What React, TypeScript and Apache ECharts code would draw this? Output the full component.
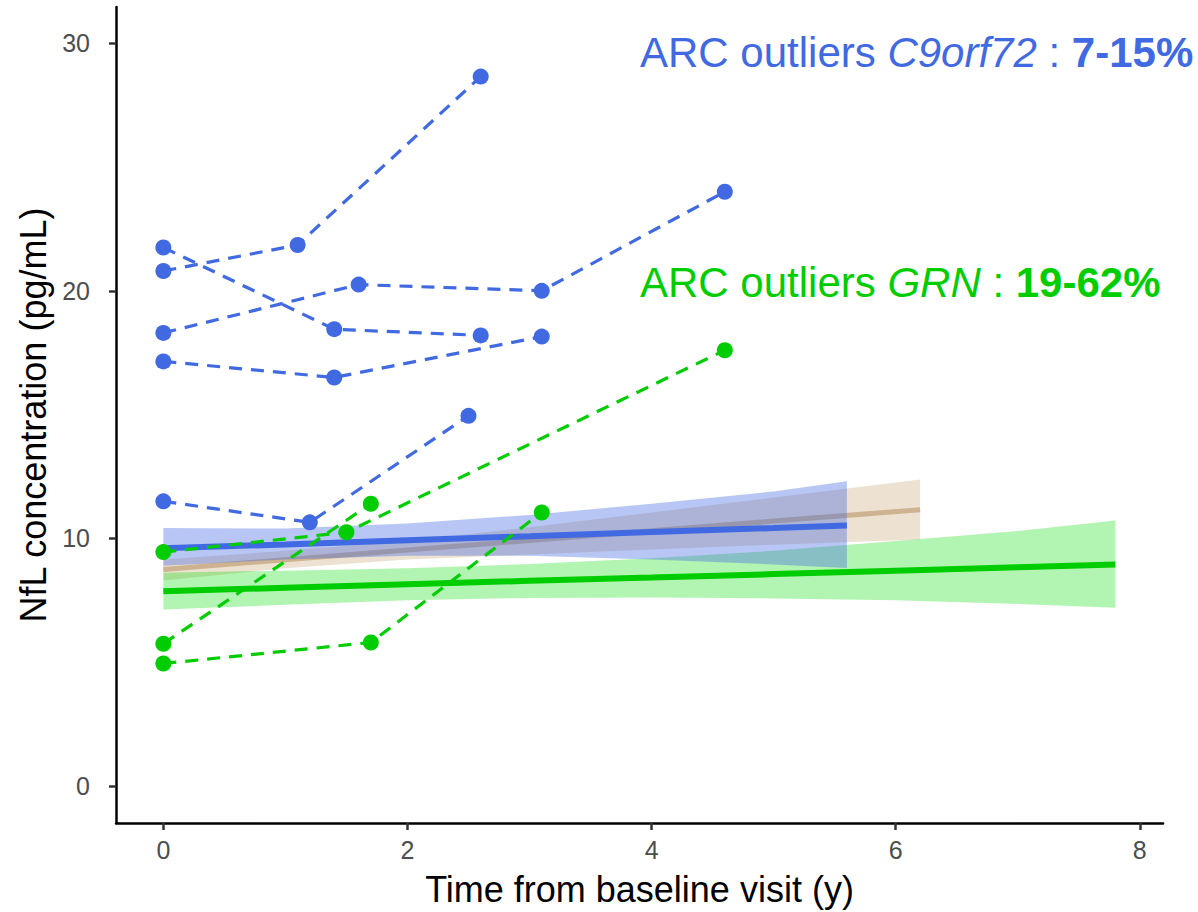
import React, { useEffect, useRef } from "react";
import * as echarts from "echarts";

// ---------- data ----------
const X_TICKS = [0, 2, 4, 6, 8];
const Y_TICKS = [0, 10, 20, 30];

// C9orf72 individual trajectories (time, NfL)
const c9A = [[0, 20.8], [1.1, 21.85], [2.6, 28.65]];
const c9B = [[0, 21.75], [1.4, 18.45], [2.6, 18.2]];
const c9C = [[0, 18.3], [1.6, 20.25], [3.1, 20.0], [4.6, 24.0]];
const c9D = [[0, 17.15], [1.4, 16.5], [3.1, 18.15]];
const c9E = [[0, 11.5], [1.2, 10.65], [2.5, 14.95]];

// GRN individual trajectories
const grnA = [[0, 9.45], [1.5, 10.25], [4.6, 17.6]];
const grnB = [[0, 5.75], [1.7, 11.4]];
const grnC = [[0, 4.95], [1.7, 5.8], [3.1, 11.05]];

// fitted lines and confidence bands
const blueFitX = [0, 1, 2, 3, 4, 5, 5.6];
const blueFit = [9.6, 9.76, 9.93, 10.09, 10.26, 10.42, 10.52];
const blueHi = [10.42, 10.4, 10.6, 10.95, 11.4, 11.9, 12.31];
const blueLo = [8.9, 9.15, 9.3, 9.3, 9.15, 8.95, 8.81];

const tanFitX = [0, 1, 2, 3, 4, 5, 6.2];
const tanFit = [8.75, 9.14, 9.53, 9.92, 10.31, 10.7, 11.16];
const tanHi = [9.15, 9.5, 9.9, 10.45, 11.05, 11.65, 12.38];
const tanLo = [8.3, 8.8, 9.15, 9.35, 9.55, 9.75, 9.96];

const greenFitX = [0, 1, 2, 3, 4, 5, 6, 7, 7.8];
const greenFit = [7.87, 8.01, 8.15, 8.29, 8.42, 8.56, 8.7, 8.84, 8.95];
const greenHi = [8.62, 8.7, 8.8, 8.97, 9.2, 9.5, 9.9, 10.3, 10.72];
const greenLo = [7.13, 7.32, 7.5, 7.6, 7.62, 7.58, 7.5, 7.35, 7.2];

// ---------- styles ----------
const BLUE = "#4169E1";
const GREEN = "#00CD00";
const FONT = "'Liberation Sans', Arial, sans-serif";

function zip(xs: number[], ys: number[]) {
  return xs.map((x, i) => [x, ys[i]]);
}

function bandSeries(xs: number[], lo: number[], hi: number[], fill: string, z: number) {
  return {
    type: "custom",
    z,
    silent: true,
    data: [[xs[0], lo[0]]],
    renderItem: (_params: any, api: any) => {
      const pts: number[][] = [];
      for (let i = 0; i < xs.length; i++) pts.push(api.coord([xs[i], hi[i]]));
      for (let i = xs.length - 1; i >= 0; i--) pts.push(api.coord([xs[i], lo[i]]));
      return {
        type: "polygon",
        shape: { points: pts },
        style: { fill },
      };
    },
  };
}

function fitSeries(xs: number[], ys: number[], color: string, width: number, z: number) {
  return {
    type: "line",
    z,
    silent: true,
    symbol: "none",
    data: zip(xs, ys),
    lineStyle: { color, width, cap: "butt" },
  };
}

function subjSeries(data: number[][], color: string) {
  return {
    type: "line",
    z: 10,
    data,
    symbol: "circle",
    symbolSize: 16,
    itemStyle: { color },
    lineStyle: { color, width: 3.2, type: [13, 9] },
  };
}

export default function App() {
  const ref = useRef<HTMLDivElement>(null);

  useEffect(() => {
    document.body.style.margin = "0";
    document.body.style.overflow = "hidden";
    const chart = echarts.init(ref.current!, null, { renderer: "svg" });

    const axisCommon = {
      type: "value",
      splitLine: { show: false },
      axisLine: { show: true, onZero: false, lineStyle: { color: "#000", width: 2.5 } },
      axisTick: { show: true, length: 7, lineStyle: { color: "#333", width: 2.5 } },
      axisLabel: { color: "#4D4D4D", fontSize: 25, fontFamily: FONT },
      nameTextStyle: { color: "#000", fontSize: 36, fontFamily: FONT },
    };

    chart.setOption({
      animation: false,
      backgroundColor: "#fff",
      grid: { left: 116, right: 35, top: 7, bottom: 87, containLabel: false },
      xAxis: {
        ...axisCommon,
        min: -0.388,
        max: 8.19,
        name: "Time from baseline visit (y)",
        nameLocation: "middle",
        nameGap: 48,
        axisTick: { ...axisCommon.axisTick, customValues: X_TICKS },
        axisLabel: { ...axisCommon.axisLabel, margin: 14, customValues: X_TICKS },
      },
      yAxis: {
        ...axisCommon,
        min: -1.49,
        max: 31.46,
        name: "NfL concentration (pg/mL)",
        nameLocation: "middle",
        nameGap: 56,
        axisTick: { ...axisCommon.axisTick, customValues: Y_TICKS },
        axisLabel: { ...axisCommon.axisLabel, margin: 26, customValues: Y_TICKS },
      },
      series: [
        bandSeries(tanFitX, tanLo, tanHi, "rgba(210,180,140,0.4)", 1),
        fitSeries(tanFitX, tanFit, "#CDB38F", 5, 2),
        bandSeries(greenFitX, greenLo, greenHi, "rgba(0,220,0,0.3)", 3),
        bandSeries(blueFitX, blueLo, blueHi, "rgba(65,105,225,0.38)", 4),
        fitSeries(greenFitX, greenFit, GREEN, 6, 5),
        fitSeries(blueFitX, blueFit, BLUE, 6, 6),
        subjSeries(c9A, BLUE),
        subjSeries(c9B, BLUE),
        subjSeries(c9C, BLUE),
        subjSeries(c9D, BLUE),
        subjSeries(c9E, BLUE),
        subjSeries(grnA, GREEN),
        subjSeries(grnB, GREEN),
        subjSeries(grnC, GREEN),
      ],
      graphic: [
        {
          type: "text",
          x: 640,
          y: 52,
          z: 20,
          style: {
            text: "{n|ARC outliers }{i|C9orf72}{n| : }{b|7-15%}",
            verticalAlign: "middle",
            rich: {
              n: { fill: BLUE, fontSize: 42, fontFamily: FONT },
              i: { fill: BLUE, fontSize: 42, fontFamily: FONT, fontStyle: "italic" },
              b: { fill: BLUE, fontSize: 42, fontFamily: FONT, fontWeight: "bold" },
            },
          },
        },
        {
          type: "text",
          x: 640,
          y: 282,
          z: 20,
          style: {
            text: "{n|ARC outliers }{i|GRN}{n| : }{b|19-62%}",
            verticalAlign: "middle",
            rich: {
              n: { fill: GREEN, fontSize: 42, fontFamily: FONT },
              i: { fill: GREEN, fontSize: 42, fontFamily: FONT, fontStyle: "italic" },
              b: { fill: GREEN, fontSize: 42, fontFamily: FONT, fontWeight: "bold" },
            },
          },
        },
      ],
    });

    return () => chart.dispose();
  }, []);

  return <div ref={ref} style={{ width: 1198, height: 912 }} />;
}
